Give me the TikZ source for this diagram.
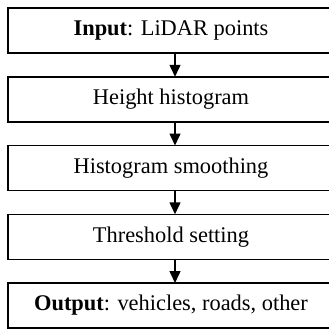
\documentclass[tikz,border=0pt]{standalone}
\usepackage{fontspec}
\setmainfont{Liberation Serif}
\usetikzlibrary{arrows.meta}
\tikzset{
  boxline/.style={draw=black, line width=1.5pt},
  boxtext/.style={inner sep=0pt, font=\fontsize{22.4}{26}\selectfont},
  flowarrow/.style={line width=1.5pt, -{Triangle[width=11pt,length=12pt]}}
}
\begin{document}
\begin{tikzpicture}[x=1pt,y=1pt]
\useasboundingbox (0,0) rectangle (329,-329);
\draw[boxline] (329,-8) -| (8,-53) -- (329,-53);
\draw[boxline] (329,-76.75) -| (8,-121.75) -- (329,-121.75);
\draw[boxline] (329,-145.5) -| (8,-190.5) -- (329,-190.5);
\draw[boxline] (329,-214.25) -| (8,-259.25) -- (329,-259.25);
\draw[boxline] (329,-283) -| (8,-328) -- (329,-328);
\node[boxtext] (in) at (171,-30.5) {\textbf{Input}: LiDAR points};
\node[boxtext] (hh) at (171,-99.25) {Height histogram};
\node[boxtext] (hs) at (171,-168) {Histogram smoothing};
\node[boxtext] (ts) at (171,-236.75) {Threshold setting};
\node[boxtext] (out) at (171,-305.5) {\textbf{Output}: vehicles, roads, other};
\coordinate (inB) at (175,-53);
\coordinate (hhT) at (175,-76.75);
\coordinate (hhB) at (175,-121.75);
\coordinate (hsT) at (175,-145.5);
\coordinate (hsB) at (175,-190.5);
\coordinate (tsT) at (175,-214.25);
\coordinate (tsB) at (175,-259.25);
\coordinate (outT) at (175,-283);
\draw[flowarrow] (inB) -- (hhT);
\draw[flowarrow] (hhB) -- (hsT);
\draw[flowarrow] (hsB) -- (tsT);
\draw[flowarrow] (tsB) -- (outT);
\end{tikzpicture}
\end{document}
